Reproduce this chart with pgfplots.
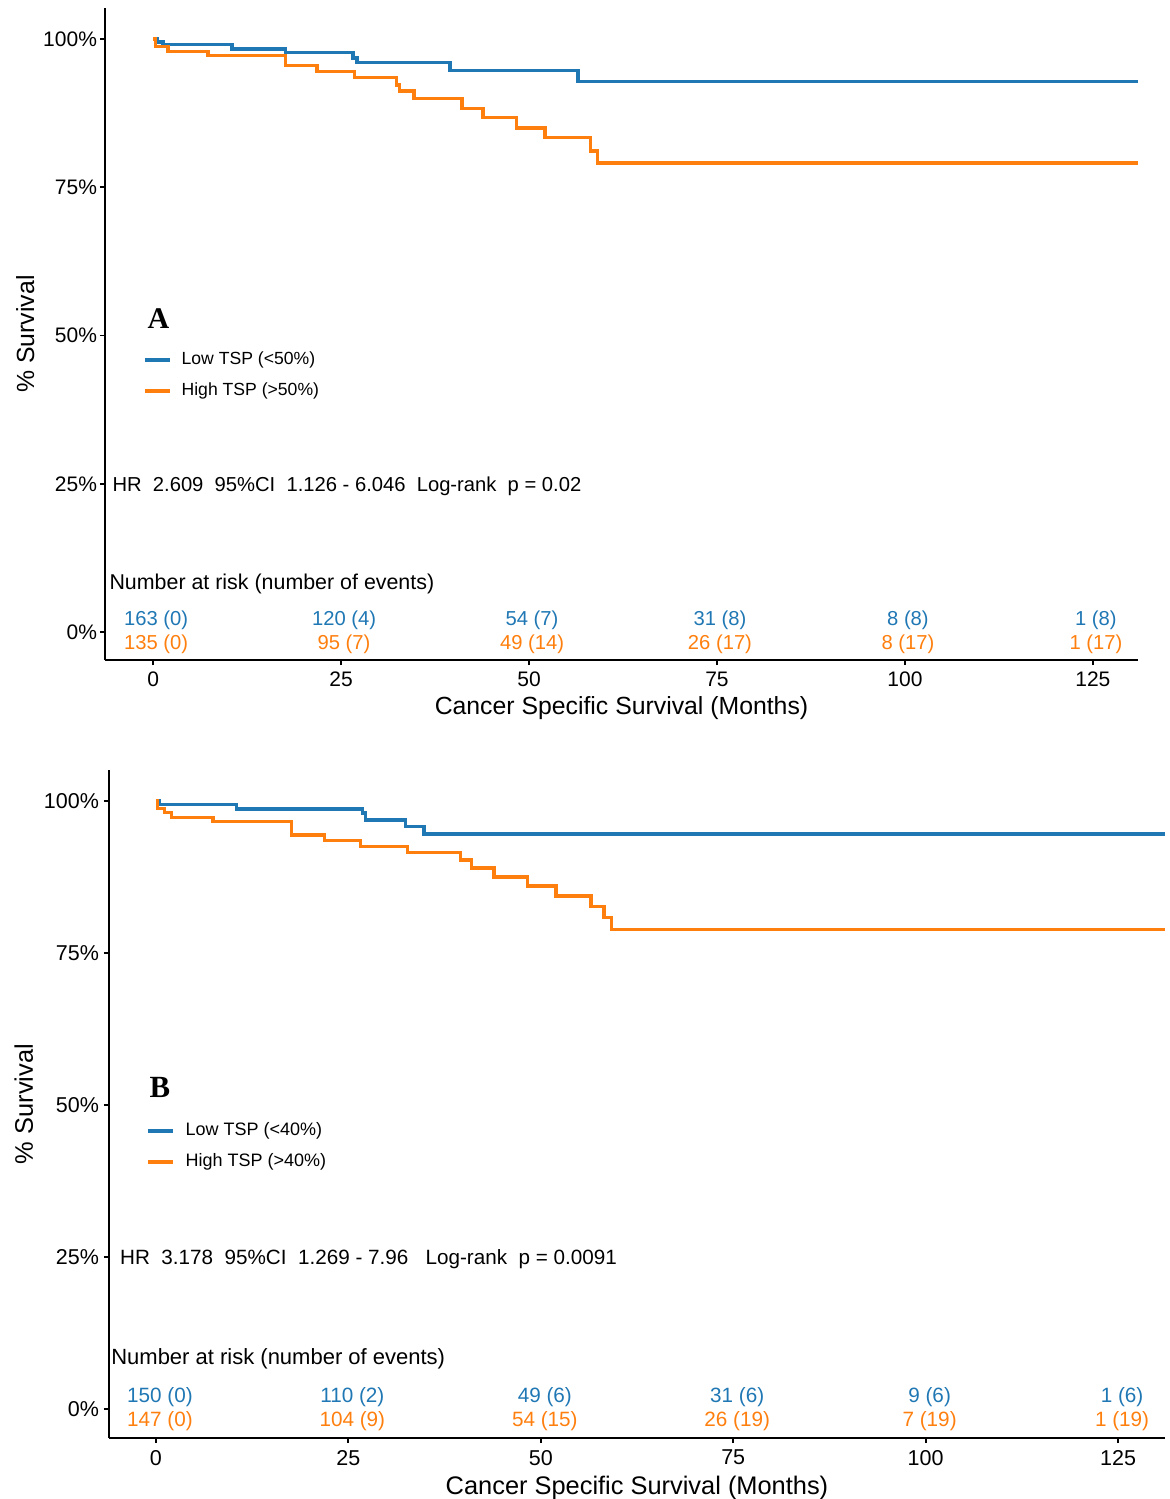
\documentclass[border=0pt]{standalone}
\usepackage{fontspec}
\setmainfont{Liberation Sans}
\newfontfamily\serifbf{Liberation Serif}
\usepackage{pgfplots}
\pgfplotsset{compat=1.18}
\definecolor{kmblue}{HTML}{1F77B4}
\definecolor{kmorange}{HTML}{FF7F0E}
\pgfplotsset{kmaxis/.style={
  scale only axis,
  axis x line*=bottom, axis y line*=left,
  axis line style={line width=0.9pt, -},
  tick align=outside, major tick length=2.5pt,
  tick style={line width=0.9pt, black},
  xtick={0,25,50,75,100,125}, xticklabels={0,25,50,75,100,125},
  ytick={0,25,50,75,100}, yticklabels={0\%,25\%,50\%,75\%,100\%},
  xlabel={Cancer Specific Survival (Months)},
  ylabel={\% Survival},
  clip=false,
  legend cell align=left,
  legend style={draw=none, fill=none, inner sep=0pt, row sep=3.5pt},
}}
\begin{document}
\begin{tikzpicture}
\path[use as bounding box] (0,0) rectangle (585pt,-749.5pt);
% ---------- Panel A ----------
\begin{axis}[kmaxis, width=516.5pt, height=326pt,
  at={(52.5pt,-330pt)}, anchor=south west,
  xmin=-6.4, xmax=131, ymin=-4.7, ymax=105.2,
  tick label style={font=\fontsize{10.5}{12}\selectfont},
  yticklabel style={xshift=2pt},
  label style={font=\fontsize{12.4}{14}\selectfont},
  xlabel style={yshift=2pt},
  ylabel style={yshift=-2.5pt},
  legend image code/.code={\draw[#1, line width=1.7pt] (0pt,0pt) -- (12.5pt,0pt); \path (15.5pt,0pt);},
  legend style={font=\fontsize{8.8}{10}\selectfont, at={(axis cs:-1.37,43.26)}, anchor=west},
  ]
\addplot[const plot, kmblue, line width=1.7pt] coordinates {
(0,100) (0.5,99.5) (1.3,99.0) (10.5,98.3) (17.6,97.7) (26.6,96.8) (27.1,96.0)
(39.5,94.7) (56.5,92.8) (131,92.8)};
\addlegendentry{Low TSP (<50\%)}
\addplot[const plot, kmorange, line width=1.7pt] coordinates {
(0,100) (0.3,98.7) (2.0,97.9) (7.3,97.2) (17.6,95.5) (21.8,94.5) (26.8,93.5)
(32.4,92.2) (32.8,91.2) (34.7,89.9) (41.1,88.3) (43.9,86.7) (48.3,85.0)
(52.1,83.4) (58.2,81.1) (59.1,79.1) (131,79.1)};
\addlegendentry{High TSP (>50\%)}
\node[font=\serifbf\bfseries\fontsize{15}{16}\selectfont] at (axis cs:0.7,52.8) {A};
\node[anchor=west, inner sep=0pt, font=\fontsize{10.1}{12}\selectfont] at (axis cs:-5.45,24.66) {HR\ \ 2.609\ \ 95\%CI\ \ 1.126 - 6.046\ \ Log-rank\ \ p = 0.02};
\node[anchor=west, inner sep=0pt, font=\fontsize{10.7}{12}\selectfont] at (axis cs:-5.85,8.1) {Number at risk (number of events)};
\begin{scope}[every node/.style={kmblue, inner sep=0pt, xshift=1.5pt, font=\fontsize{10.1}{12}\selectfont}]
\node at (axis cs:0,2.06) {163 (0)};
\node at (axis cs:25,2.06) {120 (4)};
\node at (axis cs:50,2.06) {54 (7)};
\node at (axis cs:75,2.06) {31 (8)};
\node at (axis cs:100,2.06) {8 (8)};
\node at (axis cs:125,2.06) {1 (8)};
\end{scope}
\begin{scope}[every node/.style={kmorange, inner sep=0pt, xshift=1.5pt, font=\fontsize{10.1}{12}\selectfont}]
\node at (axis cs:0,-1.99) {135 (0)};
\node at (axis cs:25,-1.99) {95 (7)};
\node at (axis cs:50,-1.99) {49 (14)};
\node at (axis cs:75,-1.99) {26 (17)};
\node at (axis cs:100,-1.99) {8 (17)};
\node at (axis cs:125,-1.99) {1 (17)};
\end{scope}
\end{axis}
% ---------- Panel B ----------
\begin{axis}[kmaxis, width=528pt, height=334pt,
  at={(54.5pt,-719pt)}, anchor=south west,
  xmin=-6.1, xmax=131.1, ymin=-4.8, ymax=105.1,
  tick label style={font=\fontsize{10.75}{12}\selectfont},
  yticklabel style={xshift=1pt},
  label style={font=\fontsize{12.7}{14}\selectfont},
  xlabel style={yshift=1.5pt},
  ylabel style={yshift=-1.5pt},
  legend image code/.code={\draw[#1, line width=1.7pt] (0pt,0pt) -- (12.5pt,0pt); \path (16pt,0pt);},
  legend style={font=\fontsize{9}{10}\selectfont, at={(axis cs:-1.31,43.17)}, anchor=west},
  ]
\addplot[const plot, kmblue, line width=1.7pt] coordinates {
(0,100) (0.5,99.4) (10.5,98.7) (26.8,98.0) (27.2,96.9) (32.4,95.8) (34.8,94.6) (131.1,94.6)};
\addlegendentry{Low TSP (<40\%)}
\addplot[const plot, kmorange, line width=1.7pt] coordinates {
(0,100) (0.2,98.8) (1.1,98.1) (2.0,97.3) (7.4,96.6) (17.6,94.4) (21.9,93.5)
(26.6,92.5) (32.7,91.5) (39.6,90.3) (41.0,89.0) (43.9,87.5) (48.3,86.0)
(52.0,84.4) (56.5,82.6) (58.2,80.8) (59.2,78.9) (131.1,78.9)};
\addlegendentry{High TSP (>40\%)}
\node[font=\serifbf\bfseries\fontsize{15.4}{16}\selectfont] at (axis cs:0.5,52.8) {B};
\node[anchor=west, inner sep=0pt, font=\fontsize{10.33}{12}\selectfont] at (axis cs:-4.7,24.67) {HR\ \ 3.178\ \ 95\%CI\ \ 1.269 - 7.96\ \ \ Log-rank\ \ p = 0.0091};
\node[anchor=west, inner sep=0pt, font=\fontsize{11}{12}\selectfont] at (axis cs:-5.85,8.2) {Number at risk (number of events)};
\begin{scope}[every node/.style={kmblue, inner sep=0pt, xshift=2pt, font=\fontsize{10.35}{12}\selectfont}]
\node at (axis cs:0,2.0) {150 (0)};
\node at (axis cs:25,2.0) {110 (2)};
\node at (axis cs:50,2.0) {49 (6)};
\node at (axis cs:75,2.0) {31 (6)};
\node at (axis cs:100,2.0) {9 (6)};
\node at (axis cs:125,2.0) {1 (6)};
\end{scope}
\begin{scope}[every node/.style={kmorange, inner sep=0pt, xshift=2pt, font=\fontsize{10.35}{12}\selectfont}]
\node at (axis cs:0,-2.1) {147 (0)};
\node at (axis cs:25,-2.1) {104 (9)};
\node at (axis cs:50,-2.1) {54 (15)};
\node at (axis cs:75,-2.1) {26 (19)};
\node at (axis cs:100,-2.1) {7 (19)};
\node at (axis cs:125,-2.1) {1 (19)};
\end{scope}
\end{axis}
\end{tikzpicture}
\end{document}
